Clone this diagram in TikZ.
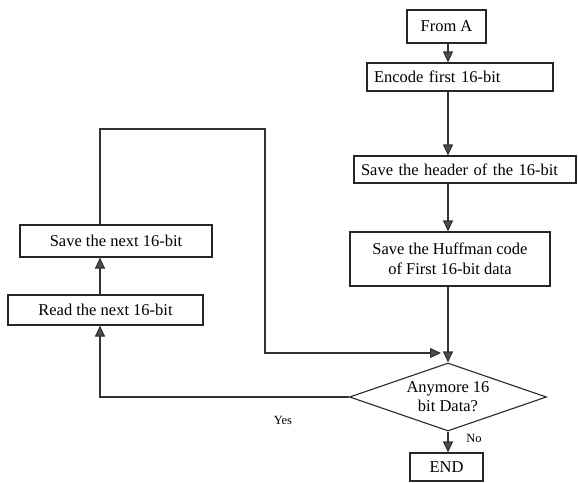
\documentclass[tikz,border=0pt]{standalone}
\usepackage{fontspec}
\setmainfont{Liberation Serif}
\usetikzlibrary{arrows.meta,shapes.geometric}
\begin{document}
\begin{tikzpicture}[x=1pt,y=-1pt,
  box/.style={draw=black!85,line width=1.1pt,rectangle,inner sep=0pt,font=\fontsize{16.5}{20}\selectfont,align=center},
  leftbox/.style={box,inner xsep=7pt,align=left},
  decision/.style={draw=black!85,line width=1.1pt,diamond,inner sep=0pt,aspect=2.9,font=\fontsize{16.5}{19}\selectfont,align=center},
  conn/.style={draw=black!80,line width=1.1pt},
  arr/.style={conn,-{Triangle[width=10pt,length=11pt,fill=black!70]}},
  lbl/.style={font=\fontsize{12.5}{14}\selectfont,inner sep=0pt}]
\useasboundingbox (0,0) rectangle (578,482);
\coordinate (spine) at (448,0);
\coordinate (lx) at (100,0);
\node[box,minimum width=79pt,minimum height=33pt] (fromA) at (446.5,26.5) {From A};
\node[leftbox,text width=172pt,minimum height=28pt] (encode) at (460,77) {Encode first 16-bit};
\node[leftbox,text width=208pt,minimum height=27pt] (header) at (465,169.5) {Save the header of the 16-bit};
\node[box,minimum width=200pt,minimum height=54pt] (huff) at (450,259) {Save the Huffman code\\of First 16-bit data};
\node[decision,minimum width=197pt,minimum height=68pt] (dia) at (448,397) {Anymore 16\\bit Data?};
\node[box,minimum width=73pt,minimum height=28pt] (end) at (446.5,467) {END};
\node[box,minimum width=192pt,minimum height=32pt] (savenext) at (116,241) {Save the next 16-bit};
\node[box,minimum width=195pt,minimum height=30pt] (read) at (105.5,310) {Read the next 16-bit};
\coordinate (mergein) at (441,353);
\coordinate (loopA) at (100,129);
\coordinate (loopB) at (265,129);
\coordinate (loopC) at (265,353);
\node[lbl] (yes) at (283,420) {Yes};
\node[lbl] (no) at (474,438) {No};
\draw[arr] (fromA.south -| spine) -- (encode.north -| spine);
\draw[arr] (encode.south -| spine) -- (header.north -| spine);
\draw[arr] (header.south -| spine) -- (huff.north -| spine);
\draw[arr] (huff.south -| spine) -- (dia.north);
\draw[arr] (dia.south) -- (end.north -| dia.south);
\draw[arr] (dia.west) -- (dia.west -| lx) -- (read.south -| lx);
\draw[arr] (read.north -| lx) -- (savenext.south -| lx);
\draw[arr] (savenext.north -| lx) -- (loopA) -- (loopB) -- (loopC) -- (mergein);
\end{tikzpicture}
\end{document}
